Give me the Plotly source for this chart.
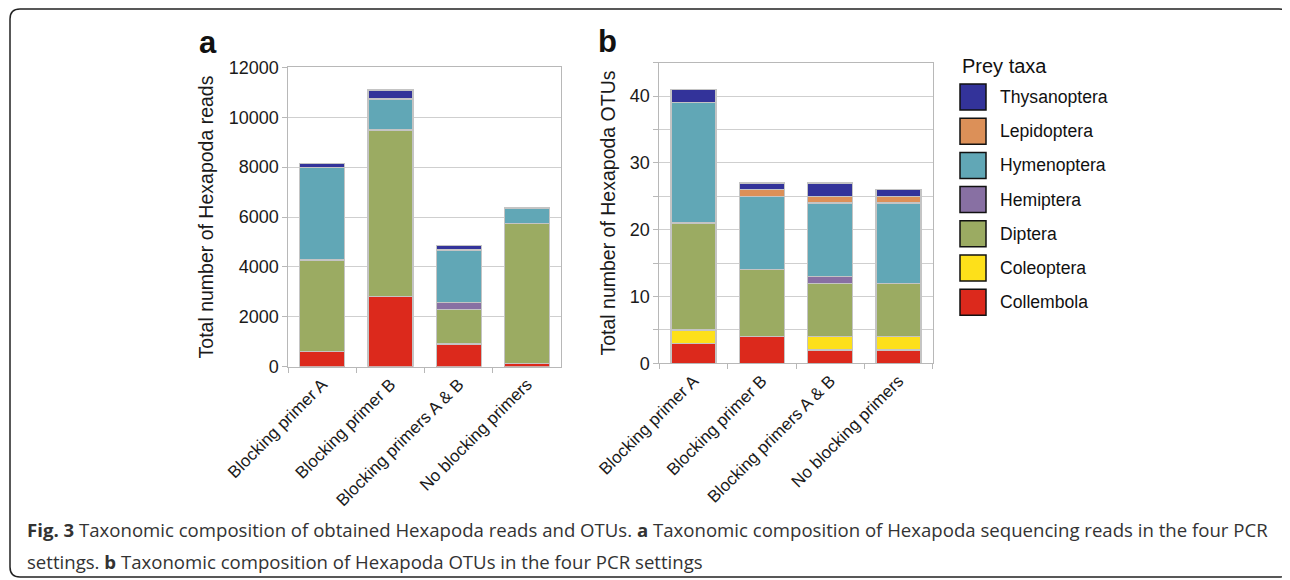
import plotly.graph_objects as go

# ---------------- data ----------------
categories = ["Blocking primer A", "Blocking primer B", "Blocking primers A & B", "No blocking primers"]
taxa = ["Collembola", "Coleoptera", "Diptera", "Hemiptera", "Hymenoptera", "Lepidoptera", "Thysanoptera"]
colors = ["#dc291c", "#fde01a", "#9bab62", "#8870a3", "#61a7b6", "#dc9058", "#33339a"]

# panel a: number of reads (stacked, bottom -> top in taxa order)
reads_collembola = [600, 2810, 910, 130]
reads_coleoptera = [0, 0, 20, 0]
reads_diptera = [3680, 6680, 1370, 5620]
reads_hemiptera = [0, 0, 280, 0]
reads_hymenoptera = [3700, 1240, 2100, 580]
reads_lepidoptera = [0, 0, 0, 0]
reads_thysanoptera = [150, 360, 190, 30]

# panel b: number of OTUs
otus_collembola = [3, 4, 2, 2]
otus_coleoptera = [2, 0, 2, 2]
otus_diptera = [16, 10, 8, 8]
otus_hemiptera = [0, 0, 1, 0]
otus_hymenoptera = [18, 11, 11, 12]
otus_lepidoptera = [0, 1, 1, 1]
otus_thysanoptera = [2, 1, 2, 1]

reads = [reads_collembola, reads_coleoptera, reads_diptera, reads_hemiptera,
         reads_hymenoptera, reads_lepidoptera, reads_thysanoptera]
otus = [otus_collembola, otus_coleoptera, otus_diptera, otus_hemiptera,
        otus_hymenoptera, otus_lepidoptera, otus_thysanoptera]

reads_ticks = [0, 2000, 4000, 6000, 8000, 10000, 12000]
reads_ticktext = ["0", "2000", "4000", "6000", "8000", "10000", "12000"]
otu_ticks = [0, 5, 10, 15, 20, 25, 30, 35, 40, 45]
otu_ticktext = ["0", "", "10", "", "20", "", "30", "", "40", ""]

caption_1 = ("<b>Fig. 3</b> Taxonomic composition of obtained Hexapoda reads and OTUs. <b>a</b> Taxonomic composition "
             "of Hexapoda sequencing reads in the four PCR")
caption_2 = "settings. <b>b</b> Taxonomic composition of Hexapoda OTUs in the four PCR settings"

# ---------------- layout helpers ----------------
W, H = 1290, 580
OFF = 8  # the page body adds an 8px offset; compensate so positions match the target


def px(x):
    return (x - OFF) / W


def py(y):
    return 1 - (y - OFF) / H


FONT = "Liberation Sans, Arial, sans-serif"
GRID = "#cfcfcf"
EDGE = "#c4c4c4"

fig = go.Figure()

for name, col, va, vb in zip(taxa, colors, reads, otus):
    fig.add_trace(go.Bar(x=categories, y=va, name=name, marker_color=col,
                         marker_line=dict(color=EDGE, width=1.2), showlegend=False,
                         xaxis="x", yaxis="y"))
    fig.add_trace(go.Bar(x=categories, y=vb, name=name, marker_color=col,
                         marker_line=dict(color=EDGE, width=1.2), showlegend=False,
                         xaxis="x2", yaxis="y2"))

axis_common = dict(showline=True, linecolor="#b8b8b8", linewidth=1, mirror=True,
                   ticks="outside", ticklen=5, tickcolor="#b8b8b8", automargin=False)
y_font = dict(family=FONT, size=18, color="#1a1a1a")
x_font = dict(family=FONT, size=17, color="#1a1a1a")

fig.update_layout(
    template="none",
    width=W, height=H, autosize=False,
    margin=dict(l=0, r=0, t=0, b=0, pad=0),
    paper_bgcolor="white", plot_bgcolor="white",
    barmode="stack", bargap=0.34,
    xaxis=dict(domain=[px(288.3), px(561)], anchor="y", type="category",
               tickangle=-45, tickson="boundaries", showgrid=False, tickfont=x_font,
               **axis_common),
    yaxis=dict(domain=[py(366.7), py(67.3)], anchor="x", range=[0, 12000],
               tickvals=reads_ticks, ticktext=reads_ticktext, showgrid=True, gridcolor=GRID,
               gridwidth=1, zeroline=False, tickfont=y_font,
               title=dict(text="Total number of Hexapoda reads", standoff=9,
                          font=dict(family=FONT, size=19.5, color="#1a1a1a")),
               **axis_common),
    xaxis2=dict(domain=[px(659.3), px(932.7)], anchor="y2", type="category",
                tickangle=-45, tickson="boundaries", showgrid=False, tickfont=x_font,
                **axis_common),
    yaxis2=dict(domain=[py(363.3), py(62.7)], anchor="x2", range=[0, 45],
                tickvals=otu_ticks, ticktext=otu_ticktext, showgrid=True, gridcolor=GRID,
                gridwidth=1, zeroline=False, tickfont=y_font,
                title=dict(text="Total number of Hexapoda OTUs", standoff=8,
                           font=dict(family=FONT, size=19.5, color="#1a1a1a")),
                **axis_common),
)

shapes = []
annotations = []

# outer rounded frame
r = 10
x0, y0, x1, y1 = 10, 9, 1289, 577
path = (f"M {px(x0)},{py(y0 + r)} Q {px(x0)},{py(y0)} {px(x0 + r)},{py(y0)} "
        f"L {px(x1 - r)},{py(y0)} Q {px(x1)},{py(y0)} {px(x1)},{py(y0 + r)} "
        f"L {px(x1)},{py(y1 - r)} Q {px(x1)},{py(y1)} {px(x1 - r)},{py(y1)} "
        f"L {px(x0 + r)},{py(y1)} Q {px(x0)},{py(y1)} {px(x0)},{py(y1 - r)} Z")
shapes.append(dict(type="path", xref="paper", yref="paper", path=path,
                   line=dict(color="#222222", width=1.5), fillcolor="rgba(0,0,0,0)", layer="below"))

# legend (top item = last taxon)
annotations.append(dict(text="Prey taxa", xref="paper", yref="paper", x=px(960), y=py(66),
                        xanchor="left", yanchor="middle", showarrow=False,
                        font=dict(family=FONT, size=20, color="#111111")))
leg_top = 97
leg_step = 34.2
for i, (name, col) in enumerate(zip(taxa[::-1], colors[::-1])):
    cy = leg_top + i * leg_step
    shapes.append(dict(type="rect", xref="paper", yref="paper",
                       x0=px(960), x1=px(986), y0=py(cy - 13), y1=py(cy + 13),
                       fillcolor=col, line=dict(color="#111111", width=1.5)))
    annotations.append(dict(text=name, xref="paper", yref="paper", x=px(998), y=py(cy),
                            xanchor="left", yanchor="middle", showarrow=False,
                            font=dict(family=FONT, size=17.6, color="#111111")))

# panel letters
annotations.append(dict(text="<b>a</b>", xref="paper", yref="paper", x=px(208), y=py(43),
                        xanchor="center", yanchor="middle", showarrow=False,
                        font=dict(family=FONT, size=31, color="#111111")))
annotations.append(dict(text="<b>b</b>", xref="paper", yref="paper", x=px(607), y=py(41),
                        xanchor="center", yanchor="middle", showarrow=False,
                        font=dict(family=FONT, size=31, color="#111111")))

# caption
annotations.append(dict(text=caption_1, xref="paper", yref="paper", x=px(25), y=py(529),
                        xanchor="left", yanchor="middle", showarrow=False,
                        font=dict(family="Open Sans, sans-serif", size=18.6, color="#333333")))
annotations.append(dict(text=caption_2, xref="paper", yref="paper", x=px(25), y=py(561),
                        xanchor="left", yanchor="middle", showarrow=False,
                        font=dict(family="Open Sans, sans-serif", size=18.6, color="#333333")))

fig.update_layout(shapes=shapes, annotations=annotations)

fig.write_html("out.html")
